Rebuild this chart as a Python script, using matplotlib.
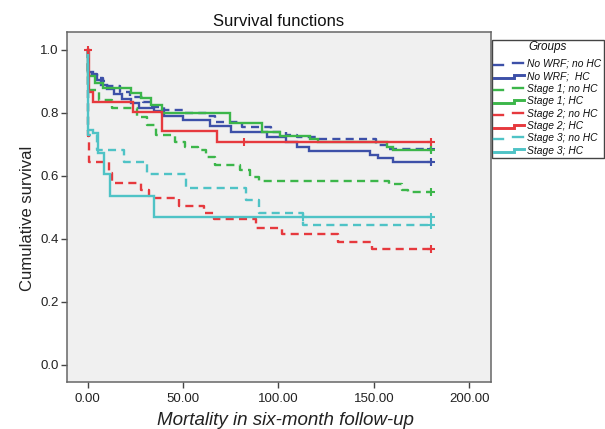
import matplotlib
matplotlib.use("Agg")
import matplotlib.pyplot as plt
from matplotlib.lines import Line2D
from matplotlib.patches import Rectangle

plt.rcParams['font.family'] = ['Liberation Sans', 'DejaVu Sans']
plt.rcParams['lines.scale_dashes'] = False

# ---- data (time in days, cumulative survival) ----
groups = ["No WRF; no HC", "No WRF;  HC", "Stage 1; no HC", "Stage 1; HC",
          "Stage 2; no HC", "Stage 2; HC", "Stage 3; no HC", "Stage 3; HC"]

nowrf_nohc_t = [0, 0.3, 5, 8, 10, 17, 22, 29, 33, 40, 50, 62, 67, 81, 96, 104, 110, 120, 151, 158, 180]
nowrf_nohc_s = [1.0, 0.925, 0.91, 0.90, 0.884, 0.868, 0.85, 0.836, 0.82, 0.81, 0.80, 0.789, 0.771,
                0.754, 0.738, 0.730, 0.722, 0.717, 0.698, 0.686, 0.686]

nowrf_hc_t = [0, 0.3, 3, 5, 7, 10, 14, 18, 23, 27, 35, 40, 50, 64, 75, 94, 104, 110, 116, 148, 152, 160, 180]
nowrf_hc_s = [1.0, 0.93, 0.92, 0.905, 0.89, 0.875, 0.86, 0.845, 0.83, 0.815, 0.805, 0.79, 0.776,
              0.759, 0.738, 0.723, 0.709, 0.693, 0.680, 0.665, 0.655, 0.645, 0.645]

st1_nohc_t = [0, 0.5, 6, 13, 26, 31, 36, 46, 51, 58, 62, 67, 80, 85, 90, 158, 165, 168, 180]
st1_nohc_s = [1.0, 0.874, 0.842, 0.815, 0.787, 0.762, 0.730, 0.706, 0.693, 0.682, 0.661, 0.635,
              0.619, 0.597, 0.584, 0.573, 0.555, 0.547, 0.547]

st1_hc_t = [0, 0.3, 4, 8, 23, 28, 33.5, 39, 74.6, 91.2, 100.8, 116.5, 120.7, 156.7, 160, 180]
st1_hc_s = [1.0, 0.917, 0.895, 0.879, 0.863, 0.847, 0.826, 0.80, 0.767, 0.738, 0.725, 0.718,
            0.709, 0.693, 0.682, 0.682]

st2_nohc_t = [0, 0.3, 1, 11, 13, 28, 32.3, 48, 61, 66, 88.5, 101.7, 131, 148.8, 180]
st2_nohc_s = [1.0, 0.727, 0.645, 0.61, 0.576, 0.555, 0.529, 0.505, 0.483, 0.462, 0.435, 0.414,
              0.390, 0.366, 0.366]

st2_hc_t = [0, 1, 3, 24, 39, 68, 180]
st2_hc_s = [1.0, 0.868, 0.836, 0.804, 0.741, 0.706, 0.706]

st3_nohc_t = [0, 0.5, 5, 19, 31, 51.5, 83, 90, 113, 180]
st3_nohc_s = [1.0, 0.73, 0.683, 0.645, 0.605, 0.562, 0.523, 0.483, 0.444, 0.444]

st3_hc_t = [0, 0.3, 3, 5.5, 8.5, 12, 34.7, 180]
st3_hc_s = [1.0, 0.745, 0.735, 0.672, 0.605, 0.536, 0.468, 0.468]

# censored observations (times)
censor_t = [[180], [180], [180], [180], [180], [0, 82, 180], [180], [113, 180]]

x_ticks = [0, 50, 100, 150, 200]
y_ticks = [0.0, 0.2, 0.4, 0.6, 0.8, 1.0]

series_t = [nowrf_nohc_t, nowrf_hc_t, st1_nohc_t, st1_hc_t, st2_nohc_t, st2_hc_t, st3_nohc_t, st3_hc_t]
series_s = [nowrf_nohc_s, nowrf_hc_s, st1_nohc_s, st1_hc_s, st2_nohc_s, st2_hc_s, st3_nohc_s, st3_hc_s]

BLUE, GREEN, RED, CYAN = '#3d50a8', '#3cb64a', '#e6393e', '#4fc3c6'
colors = [BLUE, BLUE, GREEN, GREEN, RED, RED, CYAN, CYAN]
dashed = [True, False, True, False, True, False, True, False]
DASH = (5.8, 3.8)
LW = 1.7

fig = plt.figure(figsize=(6.05, 4.29), dpi=100)
fig.patch.set_facecolor('white')
ax = fig.add_axes([0.110, 0.110, 0.7016, 0.816])
ax.set_facecolor('#f0f0f0')

for t, s, c, d in zip(series_t, series_s, colors, dashed):
    ln, = ax.step(t, s, where='post', color=c, lw=LW, solid_joinstyle='miter')
    if d:
        ln.set_dashes(DASH)

# censor marks
def surv_at(t, s, x):
    v = s[0]
    for ti, si in zip(t, s):
        if ti <= x:
            v = si
    return v

for t, s, c, ct in zip(series_t, series_s, colors, censor_t):
    ys = [surv_at(t, s, x) for x in ct]
    ax.plot(ct, ys, linestyle='none', marker='+', color=c, markersize=6, mew=1.5)

ax.set_xlim(-11, 211.4)
ax.set_ylim(-0.055, 1.058)
ax.set_xticks(x_ticks)
ax.set_xticklabels([f"{v:.2f}" for v in x_ticks])
ax.set_yticks(y_ticks)
ax.set_yticklabels([f"{v:.1f}" for v in y_ticks])
ax.tick_params(direction='out', length=4.3, width=1.0, color='#444444', labelsize=9.5,
               labelcolor='#222222')
ax.tick_params(axis='y', pad=1.5)
ax.tick_params(axis='x', pad=3.5)
for sp in ax.spines.values():
    sp.set_color('#666666')
    sp.set_linewidth(1.1)

ax.set_title("Survival functions", fontsize=12, color='#111111', pad=4)
ax.set_xlabel("Mortality in six-month follow-up", fontsize=13.5, style='italic',
              color='#222222')
ax.xaxis.set_label_coords(0.5145, -0.085)
ax.set_ylabel("Cumulative survival", fontsize=12, color='#222222')
ax.yaxis.set_label_coords(-0.074, 0.468)

# ---- legend (SPSS style) ----
W, H = 605.0, 429.0
def fx(px):
    return px / W
def fy(py):
    return 1 - py / H

fig.patches.append(Rectangle((fx(491.5), fy(158)), fx(604) - fx(491.5), fy(40) - fy(158),
                             transform=fig.transFigure, fill=False, edgecolor='#444444',
                             linewidth=1.0))
fig.text(fx(548), fy(47), "Groups", ha='center', va='center', fontsize=8.5, style='italic',
         color='#111111')
y0, dy = 64.0, 12.4
for i, (g, c, d) in enumerate(zip(groups, colors, dashed)):
    yy = y0 + i * dy
    if d:
        fig.lines.append(Line2D([fx(494), fx(503)], [fy(yy + 1), fy(yy + 1)],
                                transform=fig.transFigure, color=c, lw=LW))
        fig.lines.append(Line2D([fx(513), fx(523)], [fy(yy - 1), fy(yy - 1)],
                                transform=fig.transFigure, color=c, lw=LW))
    else:
        fig.lines.append(Line2D([fx(494), fx(514), fx(514), fx(524)],
                                [fy(yy + 1.5), fy(yy + 1.5), fy(yy - 1.5), fy(yy - 1.5)],
                                transform=fig.transFigure, color=c, lw=LW + 0.4,
                                solid_joinstyle='miter'))
    fig.text(fx(527), fy(yy), g, ha='left', va='center', fontsize=7.4, style='italic',
             color='#111111')

fig.savefig("out.png", dpi=100)
